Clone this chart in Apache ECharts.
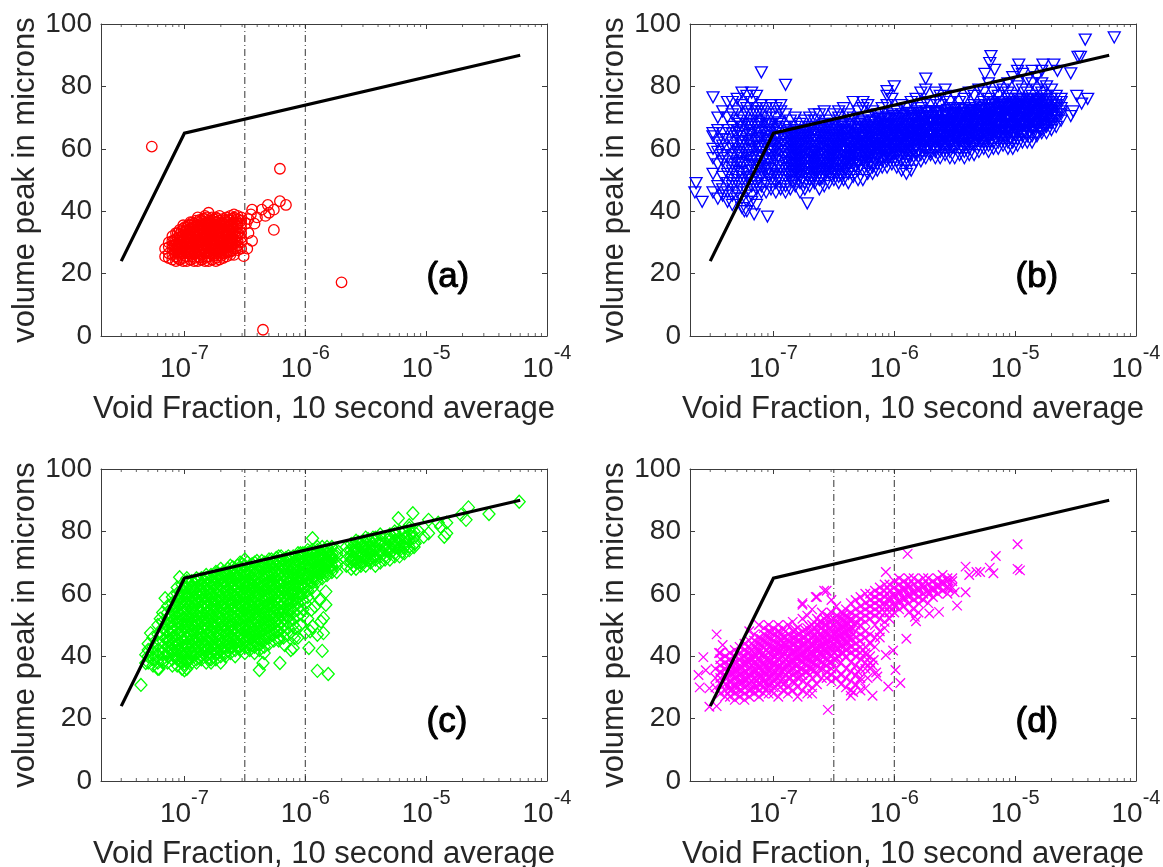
<!DOCTYPE html>
<html>
<head>
<meta charset="utf-8">
<title>Void fraction scatter</title>
<script src="https://cdn.jsdelivr.net/npm/echarts@6/dist/echarts.min.js"></script>
<style>
  html, body { margin: 0; padding: 0; background: #fff; }
  #chart { width: 1163px; height: 867px; }
</style>
</head>
<body>
<div id="chart"></div>
<script>
const xTitle = 'Void Fraction, 10 second average'
const yTitle = 'volume peak in microns'
const yTicks = [0, 20, 40, 60, 80, 100]
const xMin = 2.04e-8
const xMax = 1e-4
const limitLine = [[3e-8, 24], [1e-7, 65], [6e-5, 90]]
const regimeBounds = [3.16e-7, 1e-6]
const minorTicks = [3e-8, 4e-8, 5e-8, 6e-8, 7e-8, 8e-8, 9e-8,
  2e-7, 3e-7, 4e-7, 5e-7, 6e-7, 7e-7, 8e-7, 9e-7,
  2e-6, 3e-6, 4e-6, 5e-6, 6e-6, 7e-6, 8e-6, 9e-6,
  2e-5, 3e-5, 4e-5, 5e-5, 6e-5, 7e-5, 8e-5, 9e-5]

// rows are [log10(void fraction), peak, peak, ...]
const cloudA = [
  [-7.16, 25.5, 28],
  [-7.13, 25, 26.5, 28.5, 30],
  [-7.10, 24.5, 26, 28, 29, 30.5, 32],
  [-7.07, 24, 25.5, 27, 28, 29.5, 31, 33],
  [-7.04, 24.5, 26, 27, 28.5, 30, 31, 32.5, 34],
  [-7.01, 24, 25, 26.5, 28, 29, 30.5, 32, 33, 34.5, 35.5],
  [-6.98, 24, 25.5, 27, 28.5, 29.5, 31, 32.5, 34, 35],
  [-6.95, 24.5, 26, 27, 28, 30, 31.5, 33, 34, 35.5, 36.5],
  [-6.92, 24, 25, 26.5, 28, 29, 30.5, 32, 33.5, 35, 36],
  [-6.89, 24, 25.5, 27, 28.5, 30, 31, 32.5, 34, 35.5, 36.5, 38],
  [-6.86, 24.5, 26, 27.5, 29, 30, 31.5, 33, 34.5, 36, 37],
  [-6.83, 24, 25, 26.5, 28, 29.5, 31, 32, 33.5, 35, 36, 37.5, 38.5],
  [-6.80, 24, 25.5, 27, 28.5, 30, 31.5, 33, 34, 35.5, 37, 39.5],
  [-6.77, 24.5, 26, 27.5, 29, 30.5, 32, 33, 34.5, 36, 37, 38],
  [-6.74, 24, 25, 26.5, 28, 29.5, 31, 32.5, 34, 35, 36.5, 38],
  [-6.71, 24.5, 26, 27, 28.5, 30, 31.5, 33, 34.5, 36, 37, 38.5],
  [-6.68, 25, 26.5, 28, 29, 30.5, 32, 33.5, 35, 36, 37.5],
  [-6.65, 25.5, 27, 28.5, 30, 31, 32.5, 34, 35, 36.5, 38],
  [-6.62, 26, 27, 29, 30, 31.5, 33, 34, 35.5, 37, 38.5],
  [-6.59, 26, 28, 29.5, 31, 32.5, 34, 35, 36.5, 38, 39],
  [-6.56, 27.5, 29, 30.5, 32, 33, 35, 36, 37.5, 38.5],
  [-6.53, 28, 30, 31.5, 33, 34.5, 36, 37, 38]
]
const fillA = [
  [-7.085, 26.7, 29, 30.7],
  [-7.055, 25, 27.5, 29, 31.5, 33],
  [-7.025, 26.5, 28, 30, 31.7, 33.6],
  [-6.995, 25.6, 27.6, 29.6, 31.4, 33.5, 35],
  [-6.965, 26.4, 28.4, 30.4, 32, 33.7, 35.6],
  [-6.935, 25.5, 27.5, 29.4, 31, 32.7, 34.7, 36.4],
  [-6.905, 26.6, 28, 29.7, 31.7, 33, 35, 37],
  [-6.875, 25.2, 27.2, 29.2, 30.6, 32.2, 33.7, 35.2, 37.2],
  [-6.845, 26.2, 27.8, 29.6, 31.2, 32.8, 34.2, 35.7, 37.6],
  [-6.815, 25.4, 27.4, 29, 30.5, 32.6, 34.6, 36.4, 38],
  [-6.785, 26.4, 28, 29.7, 31, 32.5, 33.6, 35, 36.6],
  [-6.755, 25.7, 27.7, 29.4, 31.4, 33.4, 35.4, 37.4],
  [-6.725, 26.5, 28, 30.2, 32, 33.7, 35.6, 37.5],
  [-6.695, 25.7, 27.6, 29.6, 31.2, 33, 34.4, 36.4],
  [-6.665, 26.6, 28.2, 29.7, 31.6, 33.2, 35.6, 37],
  [-6.635, 27, 29, 30.6, 32.2, 33.7, 35.4, 37.4],
  [-6.605, 27.4, 29.4, 31, 32.6, 34.4, 36, 37.6],
  [-6.575, 28, 30, 31.7, 33.6, 35.5, 37.2]
]
const outliersA = [[-7.27, 60.7], [-6.21, 53.6], [-6.21, 43.2], [-6.16, 42], [-6.26, 40.5], [-6.31, 42], [-6.26, 34],
  [-5.7, 17.2], [-6.35, 2], [-6.51, 25.6], [-6.48, 28], [-6.44, 30.5], [-6.47, 33], [-6.45, 39], [-6.44, 40.5],
  [-6.4, 38], [-6.36, 40.5], [-6.33, 38.5], [-6.3, 39.5], [-6.42, 36], [-6.49, 36], [-6.47, 37.5]]

const cloudB = [
  [-7.50, 46, 52, 57, 60, 64, 65],
  [-7.46, 44, 48, 55, 59, 62, 66, 70],
  [-7.42, 45, 47, 51, 56, 58, 61, 63, 65, 72],
  [-7.38, 43, 46, 49, 52, 54, 57, 60, 63, 66, 70, 75],
  [-7.34, 42, 45, 48, 50, 53, 55, 58, 60, 62, 65, 67, 71, 75],
  [-7.30, 44, 46, 49, 51, 54, 56, 59, 61, 64, 66, 69, 72, 76],
  [-7.26, 41, 44, 47, 50, 52, 55, 57, 60, 62, 64, 67, 70, 74, 78],
  [-7.22, 40, 43, 46, 49, 51, 53, 56, 58, 61, 63, 66, 68, 71, 73, 77],
  [-7.18, 43, 45, 48, 50, 53, 55, 57, 60, 62, 65, 67, 69, 72, 75, 78],
  [-7.14, 42, 47, 49, 52, 54, 56, 59, 61, 63, 66, 68, 71, 73, 77],
  [-7.10, 46, 48, 51, 53, 55, 58, 60, 62, 64, 67, 69, 72, 74],
  [-7.06, 46, 49, 52, 54, 56, 58, 61, 63, 65, 68, 70, 73],
  [-7.02, 47, 50, 52, 55, 57, 59, 61, 64, 66, 68, 71, 74],
  [-6.98, 46, 49, 51, 53, 56, 58, 60, 62, 64, 67, 70, 73],
  [-6.94, 47, 50, 52, 54, 56, 59, 61, 63, 65, 68, 72, 74],
  [-6.90, 46, 48, 51, 53, 55, 57, 59, 61, 63, 65, 67, 71],
  [-6.86, 47, 50, 52, 54, 56, 58, 60, 62, 64, 66, 69],
  [-6.82, 48, 50, 53, 55, 57, 59, 60, 62, 64, 67, 70],
  [-6.78, 46, 49, 51, 53, 55, 57, 59, 61, 63, 65, 68],
  [-6.74, 47, 49, 52, 54, 56, 58, 60, 62, 64, 66, 69],
  [-6.70, 48, 50, 52, 54, 56, 58, 59, 61, 63, 65, 67, 70],
  [-6.66, 49, 51, 53, 55, 57, 59, 60, 62, 64, 66, 69, 71],
  [-6.62, 47, 50, 52, 54, 56, 58, 60, 61, 63, 65, 67, 71],
  [-6.58, 48, 51, 53, 55, 56, 58, 60, 62, 64, 66, 68, 72],
  [-6.54, 49, 52, 54, 55, 57, 59, 61, 63, 65, 67, 69],
  [-6.50, 50, 52, 53, 55, 57, 59, 60, 62, 64, 66, 68, 71],
  [-6.46, 49, 51, 53, 56, 58, 60, 61, 63, 65, 67, 70, 72],
  [-6.42, 50, 52, 54, 56, 58, 59, 61, 63, 64, 66, 68, 73],
  [-6.38, 49, 52, 55, 57, 58, 60, 62, 63, 65, 67, 69, 71],
  [-6.34, 51, 53, 55, 57, 59, 60, 62, 64, 65, 67, 70, 75],
  [-6.30, 50, 53, 55, 56, 58, 60, 61, 63, 65, 66, 68, 72],
  [-6.26, 50, 53, 56, 57, 59, 61, 62, 64, 65, 67, 69, 73, 75],
  [-6.22, 52, 54, 56, 58, 59, 61, 62, 64, 66, 67, 70, 74],
  [-6.18, 52, 54, 55, 57, 59, 60, 62, 63, 65, 67, 69, 72],
  [-6.14, 53, 55, 57, 58, 60, 61, 63, 64, 66, 67, 69, 71],
  [-6.10, 54, 56, 57, 59, 60, 62, 63, 65, 66, 68, 70, 73],
  [-6.06, 54, 56, 58, 59, 61, 62, 64, 65, 67, 68, 70, 74, 77],
  [-6.02, 55, 57, 58, 60, 61, 63, 64, 66, 67, 69, 71, 76],
  [-5.98, 54, 56, 58, 59, 61, 62, 64, 65, 67, 68, 70, 72],
  [-5.94, 53, 56, 58, 60, 61, 63, 64, 66, 67, 69, 71, 74],
  [-5.90, 52, 55, 57, 59, 61, 62, 64, 65, 67, 68, 70, 73],
  [-5.86, 53, 56, 58, 60, 62, 63, 65, 66, 68, 69, 71, 75],
  [-5.82, 56, 58, 60, 61, 63, 64, 66, 67, 68, 70, 72, 76],
  [-5.78, 56, 58, 60, 61, 63, 64, 65, 67, 68, 70, 71, 73, 78],
  [-5.74, 57, 59, 60, 62, 63, 65, 66, 67, 69, 70, 72, 75, 79],
  [-5.70, 58, 59, 61, 62, 64, 65, 66, 68, 69, 70, 72, 74],
  [-5.66, 57, 59, 60, 62, 63, 65, 66, 67, 69, 70, 72, 75, 78],
  [-5.62, 57, 59, 61, 62, 64, 65, 66, 68, 69, 71, 72, 74, 77],
  [-5.58, 58, 60, 61, 63, 64, 65, 67, 68, 69, 71, 72, 76, 79],
  [-5.54, 57, 59, 61, 62, 64, 65, 66, 68, 69, 71, 73, 75],
  [-5.50, 57, 60, 61, 63, 64, 66, 67, 68, 70, 71, 73, 77],
  [-5.46, 58, 60, 62, 63, 65, 66, 67, 69, 70, 71, 73, 75],
  [-5.42, 57, 59, 61, 63, 64, 66, 67, 68, 70, 71, 73, 76],
  [-5.38, 58, 60, 62, 63, 65, 66, 68, 69, 70, 72, 73, 78],
  [-5.34, 58, 61, 62, 64, 65, 67, 68, 69, 71, 72, 74, 77],
  [-5.30, 59, 61, 63, 64, 66, 67, 68, 70, 71, 72, 74, 79],
  [-5.26, 60, 62, 63, 65, 66, 67, 69, 70, 71, 73, 75, 78],
  [-5.22, 59, 61, 63, 64, 66, 67, 69, 70, 71, 73, 74, 76, 81],
  [-5.18, 60, 62, 64, 65, 66, 68, 69, 70, 72, 73, 75, 78],
  [-5.14, 60, 62, 64, 65, 67, 68, 69, 71, 72, 73, 75, 77, 80],
  [-5.10, 61, 63, 64, 66, 67, 68, 70, 71, 72, 74, 75, 79],
  [-5.06, 60, 62, 64, 66, 67, 69, 70, 71, 73, 74, 76, 78, 81],
  [-5.02, 60, 62, 64, 65, 67, 68, 70, 71, 72, 74, 75, 77, 83],
  [-4.98, 61, 63, 65, 66, 68, 69, 70, 72, 73, 74, 76, 80, 85],
  [-4.94, 62, 64, 65, 67, 68, 69, 71, 72, 73, 75, 76, 79, 84],
  [-4.90, 62, 64, 66, 67, 68, 70, 71, 72, 74, 75, 76, 78, 82],
  [-4.86, 62, 64, 66, 67, 69, 70, 71, 73, 74, 75, 77, 81, 85],
  [-4.82, 64, 65, 67, 68, 70, 71, 72, 74, 75, 76, 79, 83],
  [-4.78, 65, 66, 68, 69, 70, 72, 73, 74, 76, 78, 81, 85],
  [-4.74, 65, 67, 68, 70, 71, 72, 74, 75, 77, 80],
  [-4.70, 66, 68, 69, 70, 72, 73, 74, 76, 79],
  [-4.66, 67, 69, 70, 71, 73, 74, 75, 77],
  [-4.62, 69, 71, 72, 73, 75, 76]
]
const fillB = [
  [-7.28, 52.5, 55.5, 58.5, 62.5, 65.5, 68],
  [-7.2, 50.5, 54.5, 57.5, 59.5, 62.5, 64.5, 67.5],
  [-7.12, 50.5, 54.5, 57.5, 60.5, 63.5, 65.5, 68.5],
  [-7.04, 51.5, 53.5, 56.5, 59.5, 62.5, 65.5, 67.5],
  [-6.96, 50.5, 54.5, 57.5, 59.5, 61.5, 63.5, 66.5, 68.5],
  [-6.88, 51.5, 53.5, 55.5, 57.5, 59.5, 61.5, 63.5, 65.5],
  [-6.84, 49.5, 52.5, 54.5, 56.5, 58.5, 60.5, 62.5, 64.5],
  [-6.8, 51.5, 53.5, 55.5, 57.5, 59.5, 61.5, 63.5, 65.5],
  [-6.76, 50.5, 52.5, 54.5, 56.5, 58.5, 60.5, 62.5, 64.5],
  [-6.72, 51.5, 53.5, 55.5, 57.5, 59.5, 61.5, 63.5, 65.5],
  [-6.68, 50.5, 52.5, 54.5, 56.5, 58.5, 60.5, 62.5, 64.5, 66.5],
  [-6.64, 52.5, 54.5, 56.5, 58.5, 60.5, 62.5, 64.5],
  [-6.6, 50.5, 53.5, 55.5, 57.5, 59.5, 61.5, 63.5, 65.5, 67.5],
  [-6.56, 52.5, 54.5, 56.5, 58.5, 60.5, 62.5, 64.5, 66.5],
  [-6.52, 51.5, 53.5, 55.5, 57.5, 59.5, 61.5, 63.5, 65.5],
  [-6.48, 52.5, 54.5, 56.5, 58.5, 60.5, 62.5, 64.5, 66.5],
  [-6.44, 51.5, 53.5, 55.5, 57.5, 59.5, 61.5, 63.5, 65.5, 67.5],
  [-6.4, 53.5, 55.5, 57.5, 59.5, 61.5, 63.5, 65.5],
  [-6.36, 53.5, 55.5, 57.5, 59.5, 61.5, 63.5, 65.5, 67.5],
  [-6.32, 54.5, 56.5, 58.5, 60.5, 62.5, 64.5, 66.5],
  [-6.28, 54.5, 56.5, 58.5, 60.5, 62.5, 64.5, 66.5, 68.5],
  [-6.24, 55.5, 57.5, 59.5, 61.5, 63.5, 65.5, 67.5],
  [-6.2, 55.5, 57.5, 59.5, 61.5, 63.5, 65.5, 67.5, 68.5],
  [-6.16, 56.5, 58.5, 60.5, 62.5, 64.5, 66.5, 68.5],
  [-6.12, 56.5, 58.5, 60.5, 62.5, 64.5, 66.5, 68.5, 69.5],
  [-6.08, 57.5, 59.5, 61.5, 63.5, 65.5, 67.5, 69.5],
  [-6.04, 57.5, 59.5, 61.5, 63.5, 65.5, 67.5, 69.5],
  [-6, 58.5, 60.5, 62.5, 64.5, 66.5, 68.5, 70.5],
  [-5.96, 57.5, 59.5, 61.5, 63.5, 65.5, 67.5, 69.5],
  [-5.92, 58.5, 60.5, 62.5, 64.5, 66.5, 68.5, 70.5],
  [-5.88, 57.5, 59.5, 61.5, 63.5, 65.5, 67.5, 69.5, 71.5],
  [-5.84, 59.5, 61.5, 63.5, 65.5, 67.5, 69.5, 70.5],
  [-5.8, 59.5, 61.5, 63.5, 65.5, 67.5, 69.5, 71.5],
  [-5.76, 60.5, 62.5, 64.5, 66.5, 68.5, 70.5],
  [-5.72, 60.5, 62.5, 64.5, 66.5, 68.5, 70.5, 71.5],
  [-5.68, 60.5, 62.5, 64.5, 66.5, 68.5, 70.5],
  [-5.64, 60.5, 62.5, 64.5, 66.5, 68.5, 70.5, 71.5],
  [-5.6, 60.5, 62.5, 64.5, 66.5, 68.5, 70.5],
  [-5.56, 60.5, 62.5, 64.5, 66.5, 68.5, 70.5, 72.5],
  [-5.52, 60.5, 62.5, 64.5, 66.5, 68.5, 70.5, 71.5],
  [-5.48, 61.5, 63.5, 65.5, 67.5, 69.5, 71.5],
  [-5.44, 60.5, 62.5, 64.5, 66.5, 68.5, 70.5, 72.5],
  [-5.4, 61.5, 63.5, 65.5, 67.5, 69.5, 71.5],
  [-5.36, 61.5, 63.5, 65.5, 67.5, 69.5, 71.5, 72.5],
  [-5.32, 62.5, 64.5, 66.5, 68.5, 70.5, 72.5],
  [-5.28, 62.5, 64.5, 66.5, 68.5, 70.5, 72.5, 73.5],
  [-5.24, 62.5, 64.5, 66.5, 68.5, 70.5, 72.5],
  [-5.2, 62.5, 64.5, 66.5, 68.5, 70.5, 72.5, 74.5],
  [-5.16, 63.5, 65.5, 67.5, 69.5, 71.5, 73.5],
  [-5.12, 63.5, 65.5, 67.5, 69.5, 71.5, 73.5, 74.5],
  [-5.08, 63.5, 65.5, 67.5, 69.5, 71.5, 73.5],
  [-5.04, 63.5, 65.5, 67.5, 69.5, 71.5, 73.5, 74.5],
  [-5, 64.5, 66.5, 68.5, 70.5, 72.5, 74.5],
  [-4.96, 65.5, 67.5, 69.5, 71.5, 73.5, 75.5],
  [-4.92, 65.5, 67.5, 69.5, 71.5, 73.5, 74.5],
  [-4.88, 65.5, 67.5, 69.5, 71.5, 73.5, 75.5],
  [-4.84, 66.5, 68.5, 70.5, 72.5, 74.5],
  [-4.8, 66.5, 68.5, 70.5, 72.5, 74.5, 75.5],
  [-4.76, 67.5, 69.5, 71.5, 73.5, 75.5],
  [-4.72, 68.5, 70.5, 72.5, 74.5]
]
const outliersB = [[-7.5, 76.5], [-7.1, 84.5], [-6.9, 80.5], [-7.64, 49], [-7.65, 46], [-7.59, 43], [-6.72, 42.5],
  [-7.05, 38.3], [-7.16, 39], [-7.24, 40], [-4.42, 95], [-4.18, 95.7], [-4.48, 89.5], [-4.54, 84.2], [-5.2, 89.7],
  [-5.21, 87.5], [-5.17, 85.3], [-5.25, 84], [-5.74, 82.5], [-6, 80], [-6.06, 78.5], [-4.49, 77], [-4.4, 76],
  [-4.45, 74.5], [-4.54, 70.5], [-4.97, 87], [-4.77, 87], [-4.68, 87], [-4.65, 85], [-4.46, 89.5], [-4.52, 72]]

const cloudC = [
  [-7.30, 38, 40, 42, 44],
  [-7.26, 37, 39, 41, 43, 46],
  [-7.22, 36, 38, 40, 42, 44, 47, 50],
  [-7.18, 38, 39, 41, 43, 45, 47, 49, 51, 54],
  [-7.14, 38, 40, 41, 43, 45, 46, 48, 50, 52, 54, 56],
  [-7.10, 37, 39, 41, 42, 44, 46, 48, 49, 51, 53, 55, 57, 59],
  [-7.06, 37, 39, 40, 42, 44, 45, 47, 49, 51, 52, 54, 56, 58, 60, 62],
  [-7.02, 36, 38, 40, 41, 43, 45, 46, 48, 50, 52, 53, 55, 57, 59, 61, 63],
  [-6.98, 36, 38, 39, 41, 43, 44, 46, 48, 50, 51, 53, 55, 57, 59, 60, 62, 64, 65],
  [-6.94, 38, 40, 41, 43, 45, 47, 48, 50, 52, 54, 55, 57, 59, 61, 62, 64],
  [-6.90, 38, 39, 41, 43, 44, 46, 48, 50, 51, 53, 55, 57, 58, 60, 62, 64, 65],
  [-6.86, 39, 40, 42, 44, 46, 47, 49, 51, 53, 54, 56, 58, 60, 61, 63, 65],
  [-6.82, 38, 40, 42, 43, 45, 47, 49, 50, 52, 54, 56, 57, 59, 61, 63, 65, 66],
  [-6.78, 38, 39, 41, 43, 45, 46, 48, 50, 52, 53, 55, 57, 59, 60, 62, 64, 66],
  [-6.74, 39, 41, 42, 44, 46, 48, 49, 51, 53, 55, 56, 58, 60, 62, 63, 65, 67],
  [-6.70, 38, 40, 42, 44, 45, 47, 49, 51, 52, 54, 56, 58, 59, 61, 63, 65, 66, 68],
  [-6.66, 40, 41, 43, 45, 47, 48, 50, 52, 54, 55, 57, 59, 61, 62, 64, 66, 67],
  [-6.62, 41, 43, 44, 46, 48, 50, 51, 53, 55, 57, 58, 60, 62, 64, 65, 67, 69],
  [-6.58, 40, 42, 44, 45, 47, 49, 51, 52, 54, 56, 58, 59, 61, 63, 65, 66, 68],
  [-6.54, 42, 43, 45, 47, 49, 50, 52, 54, 56, 57, 59, 61, 63, 64, 66, 68, 70],
  [-6.50, 41, 43, 45, 46, 48, 50, 52, 53, 55, 57, 59, 60, 62, 64, 66, 67, 69, 71],
  [-6.46, 42, 44, 46, 47, 49, 51, 53, 54, 56, 58, 60, 61, 63, 65, 67, 69],
  [-6.42, 41, 43, 45, 47, 48, 50, 52, 54, 55, 57, 59, 61, 62, 64, 66, 68, 70],
  [-6.38, 42, 44, 46, 48, 49, 51, 53, 55, 56, 58, 60, 62, 63, 65, 67, 69],
  [-6.34, 41, 43, 45, 47, 49, 50, 52, 54, 56, 58, 59, 61, 63, 65, 66, 68, 70],
  [-6.30, 44, 46, 48, 50, 51, 53, 55, 57, 59, 60, 62, 64, 66, 67, 69, 71],
  [-6.26, 45, 47, 49, 51, 52, 54, 56, 58, 60, 61, 63, 65, 67, 68, 70],
  [-6.22, 45, 46, 48, 50, 52, 54, 55, 57, 59, 61, 63, 64, 66, 68, 70, 72],
  [-6.18, 46, 48, 50, 52, 54, 55, 57, 59, 61, 62, 64, 66, 68, 69, 71],
  [-6.14, 47, 49, 51, 53, 55, 57, 58, 60, 62, 64, 65, 67, 69, 71, 72],
  [-6.10, 50, 52, 54, 56, 58, 60, 61, 63, 65, 66, 68, 70, 72],
  [-6.06, 53, 55, 57, 59, 60, 62, 64, 65, 67, 69, 71, 73],
  [-6.02, 55, 58, 60, 62, 63, 65, 66, 68, 70, 72, 73],
  [-5.98, 59, 61, 63, 65, 66, 68, 69, 71, 73, 74],
  [-5.94, 62, 64, 65, 67, 68, 70, 71, 73, 74],
  [-5.90, 64, 65, 67, 68, 69, 71, 72, 74, 75],
  [-5.86, 65, 67, 68, 69, 71, 72, 73, 75],
  [-5.82, 66, 67, 69, 70, 71, 73, 74, 75],
  [-5.78, 67, 68, 69, 71, 72, 73, 75],
  [-5.74, 67, 69, 70, 72, 73, 74],
  [-5.66, 69, 71, 73, 75],
  [-5.62, 68, 70, 71, 72, 74, 76],
  [-5.58, 68, 70, 71, 73, 74, 75, 77],
  [-5.54, 69, 70, 72, 73, 75, 76],
  [-5.50, 69, 71, 72, 74, 75, 76, 78],
  [-5.46, 70, 71, 73, 74, 75, 77],
  [-5.42, 69, 71, 72, 74, 75, 77, 78],
  [-5.38, 70, 72, 73, 74, 76, 77, 79],
  [-5.34, 71, 72, 74, 75, 76, 78],
  [-5.30, 71, 73, 74, 75, 77, 78, 79],
  [-5.26, 72, 73, 75, 76, 77, 79, 80],
  [-5.22, 72, 74, 75, 77, 78, 80],
  [-5.18, 73, 75, 76, 78, 80],
  [-5.14, 74, 75, 77, 79, 81],
  [-5.10, 75, 76, 78, 80]
]
const fillC = [
  [-7.12, 42.5, 45, 47.5, 50.5, 53],
  [-7.08, 40.5, 43, 46.5, 50, 53.5, 56],
  [-7.04, 38.5, 41.5, 44, 47.5, 50.5, 53.5, 56.5, 59],
  [-7, 37.5, 42.5, 44.5, 47, 49.5, 52, 54.5, 57, 59.5, 62],
  [-6.96, 39, 42, 44.5, 47, 49.5, 52.5, 56, 58, 60.5, 63],
  [-6.92, 40, 42.5, 45, 47.5, 49.5, 52, 54, 56.5, 59, 61, 63.5],
  [-6.88, 39.5, 43, 45.5, 48, 50.5, 52.5, 55, 57.5, 59.5, 62.5, 64.5],
  [-6.84, 41, 43.5, 45.5, 48, 50, 52, 55, 57, 59, 61.5, 64],
  [-6.8, 39.5, 42.5, 44.5, 46.5, 49, 51.5, 54, 56, 58, 60.5, 63, 65],
  [-6.76, 40, 42.5, 44, 47, 49.5, 51, 54.5, 56.5, 58.5, 61, 63.5, 65.5],
  [-6.72, 41, 43.5, 45.5, 47.5, 50.5, 52.5, 54.5, 57.5, 59.5, 61.5, 64.5, 66.5],
  [-6.68, 41.5, 43, 46, 48, 50, 53, 55, 57, 60, 62, 64, 67],
  [-6.64, 42, 44.5, 46.5, 49, 51, 53.5, 56, 58, 60.5, 63, 65.5, 68],
  [-6.6, 43, 45.5, 48, 50, 52.5, 55, 57, 59.5, 62, 64, 66.5, 68.5],
  [-6.56, 43.5, 46, 48.5, 51, 53, 55.5, 58, 60, 62.5, 65, 67, 69],
  [-6.52, 44, 47, 49, 51.5, 54, 56, 58.5, 61, 63, 65.5, 68, 69.5],
  [-6.48, 43, 45.5, 48, 50, 52.5, 55, 57, 59.5, 62, 64, 66.5, 68, 70],
  [-6.44, 43.5, 46, 48.5, 51, 53, 55.5, 58, 60, 62.5, 65, 67, 69.5],
  [-6.4, 44, 46.5, 49, 51.5, 53.5, 56, 58.5, 60.5, 63, 65.5, 67.5, 70.5],
  [-6.36, 45, 47.5, 50, 52, 54.5, 57, 59, 61.5, 64, 66, 68.5, 70.5],
  [-6.32, 46, 49, 51.5, 54, 56, 58.5, 61, 63, 65.5, 68, 70],
  [-6.28, 47, 50, 52.5, 55, 57, 59.5, 62, 64, 66.5, 69, 71],
  [-6.24, 48, 51, 53, 55.5, 58, 60, 62.5, 65, 67, 69.5, 71.5],
  [-6.2, 51, 53.5, 56, 58, 60.5, 63, 65, 67.5, 70, 72],
  [-6.16, 53, 55.5, 58, 60, 62.5, 65, 67, 69.5, 71.5],
  [-6.12, 55, 57.5, 60, 62, 64.5, 67, 69, 71.5],
  [-6.08, 58, 60.5, 63, 65, 67.5, 69.5, 72],
  [-6.04, 60, 62.5, 65, 67, 69.5, 71.5, 73],
  [-6, 62, 64, 66.5, 69, 71, 73],
  [-5.96, 64, 66.5, 69, 71, 73.5],
  [-5.92, 65.5, 68, 70, 72.5],
  [-5.88, 66.5, 69, 71, 73],
  [-5.84, 67, 69.5, 71.5, 74],
  [-5.8, 68.5, 70.5, 72.5],
  [-5.6, 69, 71.5, 73.5, 75.5],
  [-5.56, 70, 72, 74, 76.5],
  [-5.52, 70.5, 72.5, 74.5, 77],
  [-5.48, 71, 73, 75, 77.5],
  [-5.44, 72, 74, 76, 78]
]
const outliersC = [[-7.36, 30.8], [-7.32, 37.8], [-7.32, 40.5], [-7.28, 47.4], [-7.2, 52], [-7.16, 58.6], [-7.21, 36],
  [-7.04, 65.3], [-7, 35.5], [-6.21, 37.8], [-6.38, 35.6], [-6.35, 37.8], [-5.9, 35.3], [-5.81, 34.3], [-5.97, 42.6],
  [-5.86, 41.7], [-5.85, 47.4], [-6, 47.4], [-5.9, 46.9], [-5.83, 56.5], [-5.83, 60.7], [-5.92, 60.2], [-5.92, 55.9],
  [-5.95, 54.9], [-5.85, 52.2], [-5.87, 51.1], [-5.94, 49.5], [-6.12, 42], [-6.1, 42.6], [-6.17, 43.6], [-6.09, 45.8],
  [-6.04, 50], [-6.08, 49], [-6.02, 53], [-5.98, 52], [-5.88, 58], [-6, 57], [-6.1, 47], [-6.06, 46], [-5.96, 48],
  [-4.23, 89.5], [-4.48, 85.6], [-4.65, 87.7], [-4.67, 83.7], [-4.71, 85.3], [-5.11, 85.8], [-5.23, 84.2],
  [-4.83, 79.4], [-4.85, 78.3], [-4.88, 81.5], [-4.9, 82.8], [-4.83, 82.8], [-4.98, 83.7], [-5.02, 78.3],
  [-4.98, 79.4], [-5.09, 76.2], [-5.12, 79.4], [-5.14, 82], [-5.94, 77.8], [-5.2, 73.5], [-5.16, 78], [-5.18, 75],
  [-5.06, 80], [-5.22, 76]]

const cloudD = [
  [-7.48, 30, 33, 36],
  [-7.44, 28, 31, 33, 35, 37, 39, 41],
  [-7.40, 27, 29, 31, 33, 34, 36, 38, 40],
  [-7.36, 27, 29, 30, 32, 34, 35, 37, 39, 41],
  [-7.32, 26, 28, 30, 31, 33, 35, 36, 38, 40, 42],
  [-7.28, 27, 29, 31, 32, 34, 36, 37, 39, 41, 43],
  [-7.24, 26, 28, 30, 32, 33, 35, 37, 38, 40, 42, 44],
  [-7.20, 27, 29, 31, 33, 34, 36, 38, 39, 41, 43, 45, 48],
  [-7.16, 28, 30, 31, 33, 35, 36, 38, 40, 41, 43, 45, 47],
  [-7.12, 27, 29, 31, 33, 34, 36, 37, 39, 41, 42, 44, 46, 50],
  [-7.08, 28, 30, 32, 33, 35, 37, 38, 40, 41, 43, 45, 47, 49],
  [-7.04, 28, 30, 31, 33, 35, 36, 38, 39, 41, 43, 44, 46, 48, 50],
  [-7.00, 28, 30, 32, 34, 35, 37, 38, 40, 42, 43, 45, 47, 49],
  [-6.96, 27, 31, 33, 34, 36, 37, 39, 41, 42, 44, 46, 48, 50],
  [-6.92, 29, 31, 33, 35, 36, 38, 40, 41, 43, 44, 46, 49],
  [-6.88, 28, 30, 33, 35, 37, 38, 40, 42, 43, 45, 47, 50],
  [-6.84, 29, 32, 34, 36, 38, 39, 41, 42, 44, 46, 48, 51],
  [-6.80, 27, 30, 33, 35, 37, 39, 40, 42, 43, 45, 47, 49],
  [-6.76, 29, 32, 34, 36, 38, 40, 41, 43, 44, 46, 48, 52, 57],
  [-6.72, 28, 31, 35, 37, 39, 40, 42, 43, 45, 47, 49, 53],
  [-6.68, 28, 30, 33, 36, 38, 40, 41, 43, 44, 46, 48, 50, 55],
  [-6.64, 31, 34, 37, 39, 40, 42, 43, 45, 46, 48, 50, 52, 59],
  [-6.60, 33, 36, 38, 40, 41, 43, 44, 46, 47, 49, 51, 54],
  [-6.56, 33, 35, 37, 39, 41, 42, 44, 45, 47, 48, 50, 53, 61],
  [-6.52, 32, 34, 36, 38, 40, 42, 43, 45, 46, 48, 49, 51, 54, 58],
  [-6.48, 33, 36, 39, 42, 43, 45, 46, 48, 49, 51, 53, 56],
  [-6.44, 31, 34, 38, 41, 43, 44, 46, 47, 49, 50, 52, 54],
  [-6.40, 30, 33, 36, 40, 42, 44, 45, 47, 48, 50, 51, 53, 55],
  [-6.36, 29, 32, 35, 38, 41, 43, 45, 46, 48, 49, 51, 52, 54, 57],
  [-6.32, 31, 34, 37, 40, 42, 44, 46, 48, 50, 51, 53, 55, 58],
  [-6.28, 29, 33, 36, 39, 41, 43, 45, 47, 50, 52, 54, 56, 59],
  [-6.24, 36, 38, 41, 43, 46, 48, 51, 53, 55, 57, 60],
  [-6.20, 38, 40, 44, 47, 52, 54, 56, 58, 60],
  [-6.16, 43, 46, 50, 53, 55, 57, 59, 61],
  [-6.12, 46, 48, 52, 54, 56, 58, 60, 62],
  [-6.08, 49, 51, 54, 56, 57, 59, 61, 63],
  [-6.04, 52, 54, 56, 58, 59, 61, 63],
  [-6.00, 54, 56, 57, 59, 60, 62, 64],
  [-5.96, 55, 57, 58, 60, 61, 63, 65],
  [-5.92, 56, 58, 59, 61, 62, 64],
  [-5.88, 54, 57, 59, 60, 62, 63, 65],
  [-5.84, 55, 58, 60, 61, 63, 65],
  [-5.80, 54, 57, 59, 61, 62, 64],
  [-5.76, 58, 60, 62, 63, 65],
  [-5.72, 57, 60, 61, 63, 65],
  [-5.68, 59, 61, 62, 64],
  [-5.64, 60, 62, 63, 65],
  [-5.60, 61, 63, 64, 66],
  [-5.56, 60, 62, 64, 65],
  [-5.52, 62, 64, 65]
]
const fillD = [
  [-7.38, 30.5, 33, 36.5],
  [-7.34, 29.5, 32.5, 34.5, 37.5],
  [-7.3, 30, 33.5, 35.5, 38],
  [-7.26, 29, 31.5, 34.5, 36.5, 39.5],
  [-7.22, 30.5, 32.5, 35, 37.5, 39, 41.5],
  [-7.18, 29.5, 32, 34.5, 37, 39.5, 42],
  [-7.14, 30, 32.5, 35.5, 37.5, 40, 42.5, 44.5],
  [-7.1, 31, 33.5, 35.5, 38.5, 40.5, 43.5, 45.5],
  [-7.06, 29.5, 31.5, 34.5, 36.5, 39, 42, 44.5, 46.5],
  [-7.02, 31.5, 33.5, 36, 38.5, 40.5, 43, 45.5, 47.5],
  [-6.98, 30, 32.5, 35, 37.5, 40, 42.5, 44.5, 47],
  [-6.94, 32, 34.5, 37, 39.5, 41.5, 43.5, 45.5, 47.5],
  [-6.9, 31.5, 34, 36.5, 39, 41, 43.5, 46, 48],
  [-6.86, 33, 35.5, 38, 40.5, 42.5, 44.5, 46.5],
  [-6.82, 31.5, 34.5, 37, 39.5, 41.5, 44, 46, 48.5],
  [-6.78, 33.5, 36, 38.5, 40.5, 42.5, 45, 47],
  [-6.74, 35, 37.5, 39.5, 41.5, 44, 46, 48.5],
  [-6.7, 34, 36, 38.5, 41, 43, 45, 47.5, 49.5],
  [-6.66, 35.5, 38, 40.5, 42.5, 44.5, 46.5, 49],
  [-6.62, 36, 38.5, 41, 43, 45, 47, 49.5, 51],
  [-6.58, 37.5, 40, 42, 44, 46, 48, 50, 52],
  [-6.54, 38, 40.5, 43, 45, 47, 49, 51, 52.5],
  [-6.5, 39, 41, 43.5, 45.5, 47.5, 50, 52],
  [-6.46, 40, 42.5, 44.5, 46.5, 48.5, 50.5, 52.5],
  [-6.42, 41, 43, 45.5, 47.5, 49.5, 51.5, 53.5],
  [-6.38, 42.5, 44.5, 46.5, 48.5, 50.5, 52.5]
]
const outliersD = [[-7.7, 26], [-7.62, 34], [-7.56, 35.5], [-7.58, 39.7], [-7.61, 30], [-7.53, 29.7], [-7.47, 47],
  [-7.42, 43.6], [-7.45, 41], [-7.47, 24], [-7.53, 23.8], [-6.55, 22.8], [-5.89, 72.8], [-5.9, 45.6], [-6.01, 41.8],
  [-6.07, 40.4], [-5.99, 35.6], [-5.95, 31.4], [-6.05, 30.3], [-6.18, 27.3], [-6.24, 29.7], [-6.36, 27.3],
  [-6.15, 34.8], [-6.18, 37], [-6.23, 40.4], [-6.17, 38.8], [-4.98, 75.9], [-5.16, 72.1], [-5.41, 68.7], [-5.38, 66],
  [-5.32, 67], [-5.29, 67], [-5.21, 68.4], [-5.18, 66.6], [-4.98, 68], [-4.96, 67.5], [-5.41, 60.5], [-5.48, 56.2],
  [-5.5, 60.5], [-5.55, 61.7], [-5.63, 54.2], [-5.71, 53.7], [-5.82, 51.2], [-5.83, 52.6], [-6.07, 67], [-6.65, 59],
  [-6.58, 61], [-6.76, 56.5], [-6.3, 35], [-6.34, 28.5], [-6.28, 32], [-6.22, 33], [-6.2, 36], [-6.14, 33.5]]

const panels = [
  { tag: '(a)', left: 101, top: 24, cloud: [...cloudA, ...fillA], outliers: outliersA, bounds: true, color: '#ff0000',
    symbol: 'circle', size: 10.5, rotate: 0 },
  { tag: '(b)', left: 690, top: 24, cloud: [...cloudB, ...fillB], outliers: outliersB, bounds: false, color: '#0000ff',
    symbol: 'triangle', size: [12, 11], rotate: 180 },
  { tag: '(c)', left: 101, top: 469, cloud: [...cloudC, ...fillC], outliers: outliersC, bounds: true, color: '#00ff00',
    symbol: 'diamond', size: [12, 13], rotate: 0 },
  { tag: '(d)', left: 690, top: 469, cloud: [...cloudD, ...fillD], outliers: outliersD, bounds: true, color: '#ff00ff',
    symbol: 'path://M0 0L10 10M10 0L0 10', size: 9.5, rotate: 0 }
]

const plotW = 446
const plotH = 312
const axisColor = '#3c3c3c'
const textColor = '#262626'

const toPoints = (cloud, outliers) => {
  const pts = []
  cloud.forEach(row => {
    row.slice(1).forEach(y => pts.push([Math.pow(10, row[0]), y]))
  })
  outliers.forEach(p => pts.push([Math.pow(10, p[0]), p[1]]))
  return pts
}

const expLabel = v => {
  const e = Math.log10(v)
  if (Math.abs(e - Math.round(e)) > 1e-6) return ''
  return '{b|10}{s|' + Math.round(e) + '}'
}

const grid = []
const xAxis = []
const yAxis = []
const series = []
const graphic = []

panels.forEach((p, i) => {
  // outerBoundsMode none: the bottom titles sit close to the page edge, keep the plot size fixed
  grid.push({ left: p.left, top: p.top, width: plotW, height: plotH, containLabel: false, outerBoundsMode: 'none' })

  const xBase = {
    type: 'log', logBase: 10, gridIndex: i, min: xMin, max: xMax, splitLine: { show: false },
    axisLine: { onZero: false, lineStyle: { color: axisColor, width: 1 } },
    axisTick: { inside: true, length: 5, lineStyle: { color: axisColor, width: 1 } }
  }
  xAxis.push({
    ...xBase, position: 'bottom',
    name: xTitle, nameLocation: 'middle', nameGap: 58,
    nameTextStyle: { fontFamily: 'Liberation Sans', fontSize: 31, color: textColor },
    axisLabel: {
      margin: 7, formatter: expLabel, hideOverlap: false, showMinLabel: true, showMaxLabel: true,
      rich: {
        b: { fontFamily: 'Liberation Sans', fontSize: 28, color: textColor, lineHeight: 40, verticalAlign: 'bottom' },
        s: { fontFamily: 'Liberation Sans', fontSize: 20, color: textColor, lineHeight: 22, verticalAlign: 'top' }
      }
    }
  })
  xAxis.push({ ...xBase, position: 'top', axisLabel: { show: false } })

  const yBase = {
    type: 'value', gridIndex: i, min: yTicks[0], max: yTicks[yTicks.length - 1], interval: 20, splitLine: { show: false },
    axisLine: { show: true, onZero: false, lineStyle: { color: axisColor, width: 1 } },
    axisTick: { show: true, inside: true, length: 5, lineStyle: { color: axisColor, width: 1 } }
  }
  yAxis.push({
    ...yBase, position: 'left',
    name: yTitle, nameLocation: 'middle', nameGap: 56, nameRotate: 90,
    nameTextStyle: { fontFamily: 'Liberation Sans', fontSize: 31, color: textColor },
    axisLabel: { margin: 9, fontFamily: 'Liberation Sans', fontSize: 28, color: textColor }
  })
  yAxis.push({ ...yBase, position: 'right', axisLabel: { show: false } })

  const xi = i * 2
  const yi = i * 2

  // minor ticks on the log axis, bottom and top
  series.push({
    type: 'scatter', xAxisIndex: xi, yAxisIndex: yi, silent: true, z: 1,
    symbol: 'rect', symbolSize: [1, 3], symbolOffset: [0, -1.5],
    itemStyle: { color: axisColor },
    data: minorTicks.map(v => [v, 0])
  })
  series.push({
    type: 'scatter', xAxisIndex: xi, yAxisIndex: yi, silent: true, z: 1,
    symbol: 'rect', symbolSize: [1, 3], symbolOffset: [0, 1.5],
    itemStyle: { color: axisColor },
    data: minorTicks.map(v => [v, 100])
  })

  if (p.bounds) {
    regimeBounds.forEach(b => {
      series.push({
        type: 'line', xAxisIndex: xi, yAxisIndex: yi, silent: true, z: 2, symbol: 'none',
        lineStyle: { color: '#333333', width: 1, type: [7, 3, 1, 3] },
        data: [[b, 0], [b, 100]]
      })
    })
  }

  series.push({
    type: 'scatter', xAxisIndex: xi, yAxisIndex: yi, silent: true, z: 3,
    symbol: p.symbol, symbolSize: p.size, symbolRotate: p.rotate,
    itemStyle: { color: 'rgba(0,0,0,0)', borderColor: p.color, borderWidth: 1.3, opacity: 1 },
    data: toPoints(p.cloud, p.outliers),
    large: false, progressive: 0
  })

  series.push({
    type: 'line', xAxisIndex: xi, yAxisIndex: yi, silent: true, z: 4, symbol: 'none',
    lineStyle: { color: '#000000', width: 3.2, cap: 'butt', join: 'miter' },
    data: limitLine
  })

  graphic.push({
    type: 'text', left: p.left + 325, top: p.top + 235, silent: true,
    style: {
      text: p.tag, fontFamily: 'Liberation Sans', fontSize: 35, fill: '#000000',
      stroke: '#000000', lineWidth: 1
    }
  })
})

const chart = echarts.init(document.getElementById('chart'), null, { renderer: 'canvas' })
chart.setOption({
  animation: false,
  backgroundColor: '#ffffff',
  grid, xAxis, yAxis, series, graphic
})
</script>
</body>
</html>
